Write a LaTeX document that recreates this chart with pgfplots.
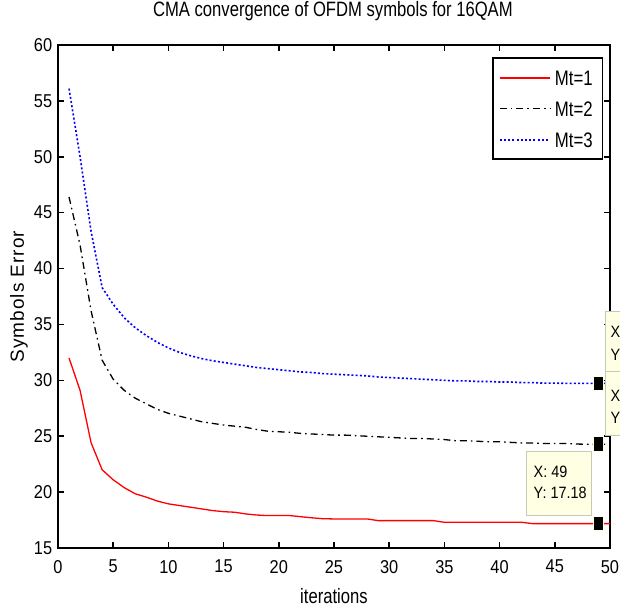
\documentclass[border=0pt]{standalone}
\usepackage{fontspec}
\setmainfont{Liberation Sans}[FakeStretch=0.8]
\newfontfamily\tickfont{Liberation Sans}[FakeStretch=0.88]
\newfontfamily\labfont{Liberation Sans}
\usepackage{pgfplots}
\usepackage{pgfplotstable}
\pgfplotsset{compat=1.18}
\definecolor{tipfill}{RGB}{255,255,228}
\definecolor{tipedge}{RGB}{200,200,185}

\pgfplotstableread{
x y
1 32.0
2 29.1
3 24.4
4 22.0
5 21.1
6 20.4
7 19.85
8 19.55
9 19.2
10 18.95
11 18.8
12 18.65
13 18.5
14 18.35
15 18.25
16 18.2
17 18.05
18 17.95
19 17.9
20 17.9
21 17.9
22 17.8
23 17.7
24 17.62
25 17.6
26 17.6
27 17.6
28 17.6
29 17.45
30 17.45
31 17.45
32 17.45
33 17.45
34 17.45
35 17.3
36 17.3
37 17.3
38 17.3
39 17.3
40 17.3
41 17.3
42 17.3
43 17.18
44 17.18
45 17.18
46 17.18
47 17.18
48 17.18
49 17.18
50 17.18
}\mtone

\pgfplotstableread{
x y
1 46.4
2 42.1
3 36.2
4 31.8
5 30.1
6 29.1
7 28.4
8 27.9
9 27.4
10 27.05
11 26.8
12 26.55
13 26.3
14 26.15
15 26.0
16 25.9
17 25.8
18 25.6
19 25.45
20 25.4
21 25.35
22 25.25
23 25.2
24 25.15
25 25.1
26 25.1
27 25.05
28 25.0
29 24.95
30 24.9
31 24.85
32 24.8
33 24.8
34 24.75
35 24.7
36 24.6
37 24.6
38 24.55
39 24.5
40 24.5
41 24.45
42 24.4
43 24.4
44 24.35
45 24.35
46 24.35
47 24.3
48 24.28
49 24.28
50 24.28
}\mttwo

\pgfplotstableread{
x y
1 56.1
2 50.0
3 43.3
4 38.3
5 36.8
6 35.6
7 34.7
8 34.0
9 33.4
10 32.9
11 32.5
12 32.2
13 31.95
14 31.75
15 31.6
16 31.45
17 31.3
18 31.15
19 31.05
20 30.95
21 30.85
22 30.75
23 30.7
24 30.6
25 30.55
26 30.5
27 30.45
28 30.4
29 30.3
30 30.25
31 30.2
32 30.15
33 30.1
34 30.05
35 30.0
36 29.95
37 29.95
38 29.9
39 29.9
40 29.85
41 29.85
42 29.8
43 29.8
44 29.75
45 29.75
46 29.73
47 29.73
48 29.73
49 29.73
50 29.73
}\mtthree

\begin{document}
\begin{tikzpicture}
\begin{scope}
\clip (-29pt,-29pt) rectangle (281pt,274pt);
\begin{axis}[
  at={(0,0)}, anchor=south west,
  scale only axis, width=276pt, height=251.5pt,
  xmin=0, xmax=50, ymin=15, ymax=60,
  xtick={0,5,...,50}, ytick={15,20,...,60},
  tick align=inside, major tick length=2.8pt,
  axis line style={line width=1pt},
  every tick/.append style={black, line width=0.8pt},
  /pgf/number format/assume math mode=true,
  ticklabel style={font=\tickfont\fontsize{9.3}{11}\selectfont},
  xticklabel style={yshift=-2.5pt},
  yticklabel style={xshift=0.6pt},
  title={CMA convergence of OFDM symbols for 16QAM},
  title style={at={(0.498,1)}, anchor=base, yshift=8.35pt, font=\fontsize{10.4}{12}\selectfont},
  xlabel={iterations},
  every axis x label/.style={at={(axis description cs:0.5,0)}, anchor=base, yshift=-27.5pt, font=\fontsize{10.4}{12}\selectfont},
  ylabel={S\kern.5pt y\kern.5pt m\kern.5pt b\kern.5pt o\kern.5pt l\kern.5pt s\kern.5pt\ E\kern.5pt r\kern.5pt r\kern.5pt o\kern.5pt r},
  every axis y label/.style={at={(axis description cs:-0.062,0.5)}, rotate=90, anchor=base, font=\labfont\fontsize{9.5}{11}\selectfont},
  clip=false,
  legend style={at={(0.988,0.9755)}, anchor=north east, draw=black, line width=0.7pt,
    font=\fontsize{10.5}{12}\selectfont, inner xsep=3pt, inner ysep=2.5pt, row sep=1pt,
    nodes={inner ysep=3.5pt, inner xsep=2pt, text height=7.5pt, text depth=0pt}},
  legend cell align=left,
]
\addplot[color=red, draw=red, line width=0.65pt,
  legend image code/.code={\draw[draw=red, line width=1pt, solid] (0pt,0pt) -- (25pt,0pt);}] table {\mtone};
\addlegendentry{Mt=1}
\addplot[color=black, draw=black, line width=0.65pt, dash pattern=on 3.5pt off 2pt on 0.8pt off 2pt,
  legend image code/.code={\draw[draw=black, line width=0.65pt, dash pattern=on 3.5pt off 2pt on 0.8pt off 2pt] (0pt,0pt) -- (25pt,0pt);}] table {\mttwo};
\addlegendentry{Mt=2}
\addplot[color=blue, draw=blue, line width=0.8pt, dash pattern=on 1pt off 1.1pt,
  legend image code/.code={\draw[draw=blue, line width=1pt, dash pattern=on 1pt off 1.1pt] (0pt,0pt) -- (25pt,0pt);}] table {\mtthree};
\addlegendentry{Mt=3}

% data tip boxes
\draw[fill=tipfill, draw=tipedge, line width=0.5pt] (axis cs:42.45,17.95) rectangle (axis cs:48.34,23.61);
\node[anchor=west, inner sep=0pt, font=\tickfont\fontsize{8.2}{10}\selectfont] at (axis cs:43.05,21.82) {X: 49};
\node[anchor=west, inner sep=0pt, font=\tickfont\fontsize{8.2}{10}\selectfont] at (axis cs:43.05,19.89) {Y: 17.18};
\draw[fill=tipfill, draw=tipedge, line width=0.5pt] (axis cs:49.55,30.77) rectangle (axis cs:56,36.14);
\node[anchor=west, inner sep=0pt, font=\tickfont\fontsize{8.2}{10}\selectfont] at (axis cs:50.02,34.35) {X};
\node[anchor=west, inner sep=0pt, font=\tickfont\fontsize{8.2}{10}\selectfont] at (axis cs:50.02,32.26) {Y};
\draw[fill=tipfill, draw=tipedge, line width=0.5pt] (axis cs:49.55,25.1) rectangle (axis cs:56,30.77);
\node[anchor=west, inner sep=0pt, font=\tickfont\fontsize{8.2}{10}\selectfont] at (axis cs:50.02,28.6) {X};
\node[anchor=west, inner sep=0pt, font=\tickfont\fontsize{8.2}{10}\selectfont] at (axis cs:50.02,26.6) {Y};

\addplot[only marks, mark=square*, mark size=3.65pt, forget plot,
  mark options={xscale=0.68, solid, fill=black, draw=tipfill, line width=0.5pt}]
  coordinates {(49,17.18) (49,24.28) (49,29.73)};
\end{axis}
\end{scope}
\pgfresetboundingbox
\path[use as bounding box] (-29pt,-29pt) rectangle (281pt,274pt);
\end{tikzpicture}
\end{document}
